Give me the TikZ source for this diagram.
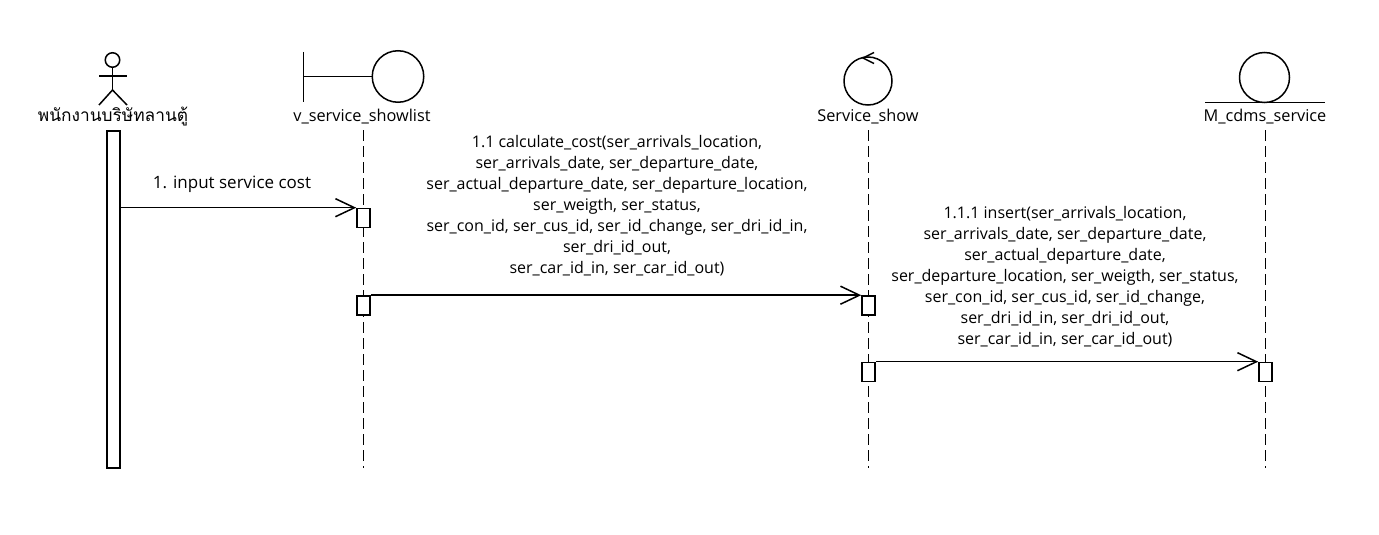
\documentclass[tikz,border=0pt]{standalone}
\usepackage{fontspec}
\setmainfont{Open Sans}
\newfontfamily\thaifont[Script=Thai]{Loma}
\usetikzlibrary{arrows.meta}
\tikzset{
  ln/.style={line width=1.5pt, draw=black},
  lifeline/.style={line width=1.5pt, dash pattern=on 11pt off 5pt},
  actbox/.style={draw, fill=white, line width=1.6pt, minimum width=13pt, minimum height=19pt, inner sep=0pt},
  lbl/.style={font=\fontsize{16.3}{18}\selectfont, inner sep=0pt, text=black},
  msg/.style={align=center, font=\fontsize{16}{21}\selectfont, inner sep=0pt},
  call/.style={line width=1.5pt, -{Straight Barb[length=19pt, width=18pt, line width=1.5pt]}},
}
\begin{document}
\begin{tikzpicture}[x=1pt,y=-1pt]
\useasboundingbox (0,0) rectangle (1379,535);
% actor
\node[circle, draw, line width=1.5pt, minimum size=14.5pt, inner sep=0pt] (head) at (112.5,60) {};
\coordinate (hip) at (112.5,90);
\coordinate (larm) at (99,76);
\coordinate (rarm) at (127,76);
\coordinate (lleg) at (99,105);
\coordinate (rleg) at (127,105);
\draw[ln] (head.south) -- (hip);
\draw[ln] (larm) -- (rarm);
\draw[ln] (lleg) -- (hip) -- (rleg);
\node[lbl] (actlbl) at (113,117) {\thaifont\fontsize{17.3}{18}\selectfont พนักงานบริษัทลานตู้};
% boundary
\node[circle, draw, line width=1.5pt, minimum size=51.5pt, inner sep=0pt] (bcirc) at (398,76.5) {};
\coordinate (btop) at (303.5,52);
\coordinate (bbot) at (303.5,102);
\coordinate (bmid) at (303.5,76.5);
\draw[ln] (btop) -- (bbot);
\draw[ln] (bmid) -- (bcirc.west);
\node[lbl] (blbl) at (362,117) {v\_service\_showlist};
% control
\node[circle, draw, line width=1.5pt, minimum size=48pt, inner sep=0pt] (ccirc) at (868,81) {};
\coordinate (cv) at (863,58);
\coordinate (ca) at (874,52.5);
\coordinate (cb) at (874,63.5);
\draw[ln] (ca) -- (cv) -- (cb);
\node[lbl] (clbl) at (868,117) {Service\_show};
% entity
\node[circle, draw, line width=1.5pt, minimum size=50pt, inner sep=0pt] (ecirc) at (1264.5,77.5) {};
\coordinate (el) at (1205,102.5);
\coordinate (er) at (1325,102.5);
\draw[ln] (el) -- (er);
\node[lbl] (elbl) at (1265,117) {M\_cdms\_service};
% lifelines
\coordinate (l1b) at (363.5,468);
\coordinate (l2b) at (868.5,468);
\coordinate (l3b) at (1265.5,468);
\draw[lifeline] (363.5,130) -- (l1b);
\draw[lifeline] (868.5,130) -- (l2b);
\draw[lifeline] (1265.5,130) -- (l3b);
% actor activation
\node[draw, fill=white, line width=1.6pt, minimum width=12.5pt, minimum height=337pt, inner sep=0pt] (abar) at (113.5,299.5) {};
% activations
\node[actbox] (a1) at (363.5,218) {};
\node[actbox] (a2) at (363.5,305.5) {};
\node[actbox] (a3) at (868.5,305.5) {};
\node[actbox] (a4) at (868.5,372) {};
\node[actbox] (a5) at (1265.5,372) {};
% messages
\draw[call] (abar.east |- a1.north) -- (a1.north west);
\node[msg, font=\fontsize{17}{21}\selectfont] (m1) at (232,184) {1. input service cost};
\draw[call] (a2.north east) -- (a3.north west);
\node[msg] (m2) at (617,206) {1.1 calculate\_cost(ser\_arrivals\_location,\\ser\_arrivals\_date, ser\_departure\_date,\\ser\_actual\_departure\_date, ser\_departure\_location,\\ser\_weigth, ser\_status,\\ser\_con\_id, ser\_cus\_id, ser\_id\_change, ser\_dri\_id\_in,\\ser\_dri\_id\_out,\\ser\_car\_id\_in, ser\_car\_id\_out)};
\draw[call] (a4.north east) -- (a5.north west);
\node[msg] (m3) at (1065,277) {1.1.1 insert(ser\_arrivals\_location,\\ser\_arrivals\_date, ser\_departure\_date,\\ser\_actual\_departure\_date,\\ser\_departure\_location, ser\_weigth, ser\_status,\\ser\_con\_id, ser\_cus\_id, ser\_id\_change,\\ser\_dri\_id\_in, ser\_dri\_id\_out,\\ser\_car\_id\_in, ser\_car\_id\_out)};
\end{tikzpicture}
\end{document}
